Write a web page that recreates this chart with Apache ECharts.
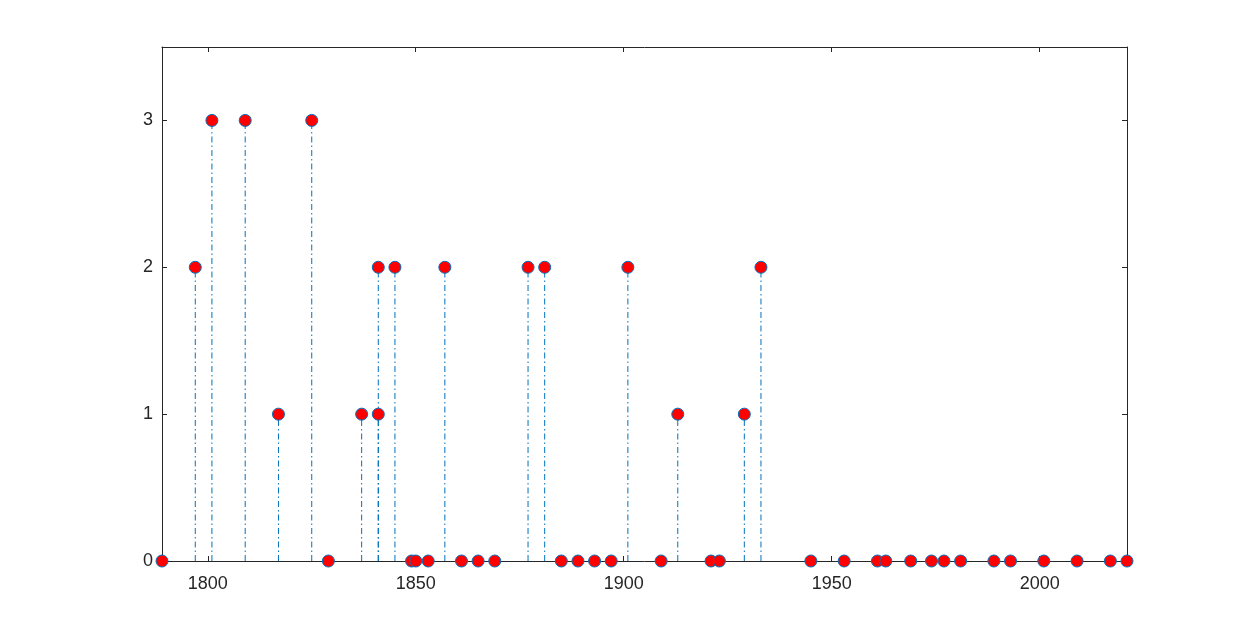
<!DOCTYPE html>
<html>
<head>
<meta charset="utf-8">
<script src="https://cdn.jsdelivr.net/npm/echarts@6/dist/echarts.min.js"></script>
<style>html,body{margin:0;padding:0;background:#fff}#c{width:1246px;height:630px}</style>
</head>
<body>
<div id="c"></div>
<script>
const years = [1789,1797,1801,1809,1817,1825,1829,1837,1841,1841,1845,1849,1850,1853,1857,1861,1865,1869,1877,1881,1885,1889,1893,1897,1901,1909,1913,1921,1923,1929,1933,1945,1953,1961,1963,1969,1974,1977,1981,1989,1993,2001,2009,2017,2021];
const values = [0,2,3,3,1,3,0,1,2,1,2,0,0,0,2,0,0,0,2,2,0,0,0,0,2,0,1,0,0,1,2,0,0,0,0,0,0,0,0,0,0,0,0,0,0];
const xTicks = [1800,1850,1900,1950,2000];
const yTicks = [0,1,2,3];

const pts = years.map((y,i)=>[y, values[i]]);
const axisColor = '#262626';
const font = {color: axisColor, fontSize: 18, fontFamily: 'Liberation Sans, Arial, sans-serif'};

function xAx(pos, show){
  return {type:'value', position:pos, min:1789, max:2021,
    axisLine:{show:true, onZero:false, lineStyle:{color:axisColor,width:1}},
    axisTick:{show:true, inside:true, length:5, customValues:xTicks, lineStyle:{color:axisColor}},
    axisLabel:{show:show, customValues:xTicks, margin:14, formatter:v=>String(v), ...font},
    splitLine:{show:false}};
}
function yAx(pos, show){
  return {type:'value', position:pos, min:0, max:3.5,
    axisLine:{show:true, onZero:false, lineStyle:{color:axisColor,width:1}},
    axisTick:{show:true, inside:true, length:5, customValues:yTicks, lineStyle:{color:axisColor}},
    axisLabel:{show:show, customValues:yTicks, margin:9, formatter:v=>String(v), ...font},
    splitLine:{show:false}};
}

const chart = echarts.init(document.getElementById('c'));
chart.setOption({
  animation:false,
  backgroundColor:'#fff',
  grid:{left:162, right:119, top:47, bottom:69},
  xAxis:[xAx('bottom',true), xAx('top',false)],
  yAxis:[yAx('left',true), yAx('right',false)],
  series:[
    {type:'custom', clip:false, z:2,
     renderItem:function(params, api){
       const x = api.value(0), v = api.value(1);
       if (v === 0) return null;
       const p0 = api.coord([x,0]), p1 = api.coord([x,v]);
       return {type:'line', shape:{x1:p0[0],y1:p0[1],x2:p1[0],y2:p1[1]},
         style:{stroke:'#0072BD', lineWidth:1, lineDash:[6,3,1.5,3]}};
     },
     data:pts},
    {type:'scatter', clip:false, z:3, symbol:'circle', symbolSize:12,
     itemStyle:{color:'#ff0000', borderColor:'#0072BD', borderWidth:1, opacity:1},
     data:pts}
  ]
});
</script>
</body>
</html>
